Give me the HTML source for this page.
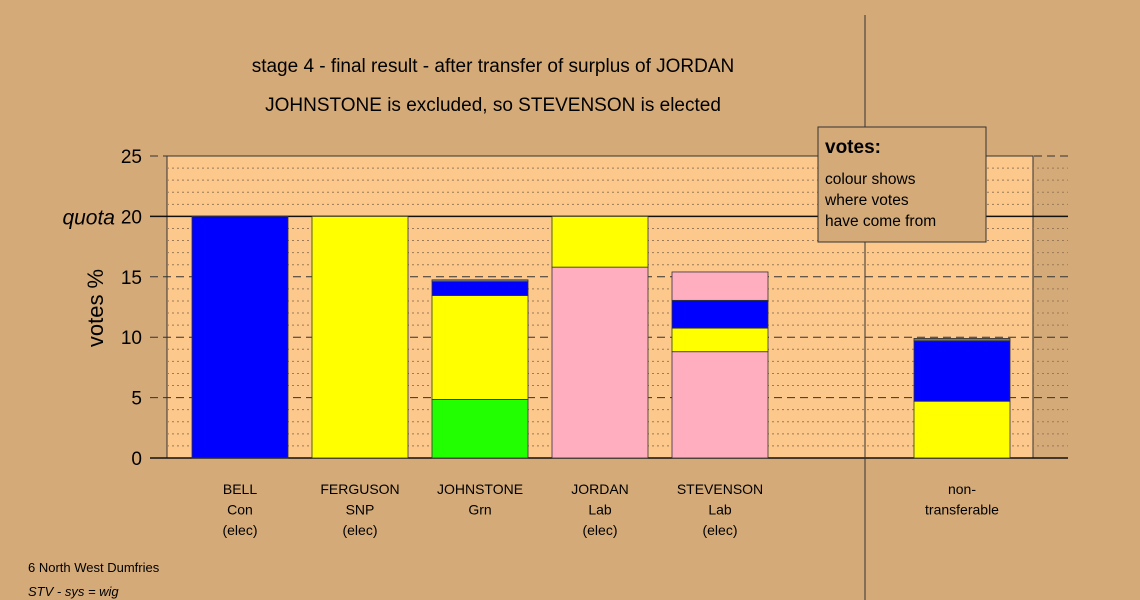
<!DOCTYPE html>
<html><head><meta charset="utf-8"><style>
body{margin:0;background:#d4aa78;}
svg{display:block;font-family:"Liberation Sans",sans-serif;}
</style></head><body>
<svg id="c" width="1140" height="600">
<rect x="0" y="0" width="1140" height="600" fill="#d4aa78"/>
<rect x="167" y="156" width="866" height="302" fill="#fdc88c" stroke="#333" stroke-width="1"/>
<g id="grid"></g>
<g id="bars"></g>
<line x1="865" y1="15" x2="865" y2="600" stroke="#333" stroke-width="1"/>
<text x="493" y="72" font-size="19" text-anchor="middle">stage 4 - final result - after transfer of surplus of JORDAN</text>
<text x="493" y="111" font-size="19" text-anchor="middle">JOHNSTONE is excluded, so STEVENSON is elected</text>
<text x="103" y="308" font-size="22" text-anchor="middle" transform="rotate(-90 103 308)">votes %</text>
<g id="ticks"></g>
<g id="xlabels"></g>
<g>
<rect x="818" y="127" width="168" height="115" fill="#d4aa78" stroke="#333"/>
<text x="825" y="153" font-size="19" font-weight="bold">votes:</text>
<text x="825" y="184" font-size="15.5">colour shows</text>
<text x="825" y="205" font-size="15.5">where votes</text>
<text x="825" y="226" font-size="15.5">have come from</text>
</g>
<text x="28" y="572" font-size="13">6 North West Dumfries</text>
<text x="28" y="596" font-size="13" font-style="italic">STV - sys = wig</text>
</svg>
<script>
const categories=[["BELL","Con","(elec)"],["FERGUSON","SNP","(elec)"],["JOHNSTONE","Grn"],["JORDAN","Lab","(elec)"],["STEVENSON","Lab","(elec)"],["non-","transferable"]];
const barCenters=[240,360,480,600,720,962];
const segColors=[["#0000ff"],["#ffff00"],["#22ff00","#ffff00","#0000ff","#777777"],["#ffaec0","#ffff00"],["#ffaec0","#ffff00","#0000ff","#ffaec0"],["#ffff00","#0000ff","#777777"]];
const segValues=[[20],[20],[4.85,8.6,1.15,0.15],[15.8,4.2],[8.8,1.95,2.3,2.35],[4.7,5.0,0.2]];
const yTicks=[0,5,10,15,20,25];
const quota=20;
const y0=458,pxPer=302/25;
function Y(v){return y0-v*pxPer;}
const NS="http://www.w3.org/2000/svg";
function mk(t,a,p){const e=document.createElementNS(NS,t);for(const k in a)e.setAttribute(k,a[k]);p.appendChild(e);return e;}
const grid=document.getElementById('grid');
for(let v=1;v<25;v++){if(v%5===0)continue;
const l=mk('line',{x1:167,x2:1068,y1:Y(v),y2:Y(v),stroke:'#9a7a58','stroke-width':1,'stroke-dasharray':'2,3'},grid);

}
yTicks.forEach(v=>{
const isQ=v===quota;
const l=mk('line',{x1:v===0?150:150,x2:1068,y1:Y(v),y2:Y(v),stroke:v===0||isQ?'#111':'#333','stroke-width':v===0||isQ?1.5:1,'stroke-dasharray':(v===0||isQ)?'none':'8,5'},grid);


});
const ticks=document.getElementById('ticks');
yTicks.forEach(v=>{
const t=mk('text',{x:142,y:Y(v)+7,'font-size':19,'text-anchor':'end'},ticks);
t.textContent=v;


});
const q=mk('text',{x:115,y:Y(quota)+8,'font-size':21,'font-style':'italic','text-anchor':'end'},ticks);
q.textContent='quota';


const bars=document.getElementById('bars');
const bw=96;
segValues.forEach((segs,i)=>{let acc=0;
segs.forEach((s,j)=>{
const r=mk('rect',{x:barCenters[i]-bw/2,y:Y(acc+s),width:bw,height:s*pxPer,fill:segColors[i][j],stroke:'#333','stroke-width':0.8},bars);


acc+=s;});
});
const xl=document.getElementById('xlabels');
categories.forEach((lines,i)=>{lines.forEach((s,k)=>{
const t=mk('text',{x:barCenters[i],y:494+k*20.5,'font-size':14,'text-anchor':'middle'},xl);
t.textContent=s;


});});
</script>
</body></html>
